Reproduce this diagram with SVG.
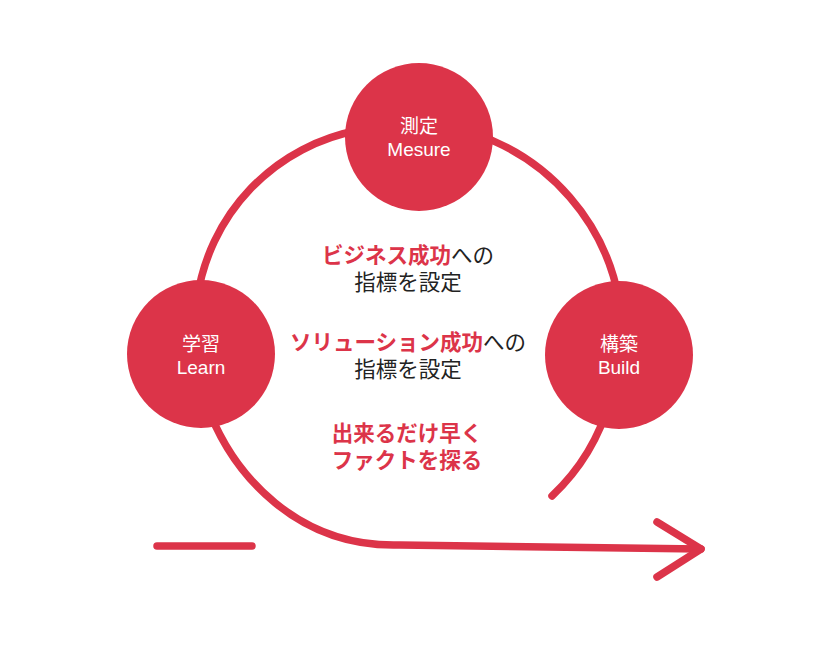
<svg xmlns="http://www.w3.org/2000/svg" width="838" height="658" viewBox="0 0 838 658">
<style>
.ln{fill:none;stroke:#dc3449;stroke-width:7.5;stroke-linecap:round;stroke-linejoin:round}
.nd{fill:#dc3449}
.nt{fill:#ffffff;font-family:"Liberation Sans","Noto Sans CJK JP",sans-serif;font-size:19px;text-anchor:middle}
.ct{font-family:"Liberation Sans","Noto Sans CJK JP",sans-serif;font-size:21.5px;text-anchor:middle;fill:#222222}
.rd{fill:#dc3449;font-weight:700}
</style>
<rect width="838" height="658" fill="#ffffff"/>
<g id="connectors">
<path class="ln" d="M197 300 A200 200 0 0 1 360 130"/>
<path class="ln" d="M475 134 A214.7 214.7 0 0 1 619 300"/>
<path class="ln" d="M610 400 A210 210 0 0 1 552 496"/>
<path class="ln" d="M205 400 C232 478 300 548 400 545 L701 549"/>
<path class="ln" d="M657 522 L701 549 L657 577"/>
<path class="ln" d="M157 546 L252 546"/>
</g>
<g id="node-measure">
<circle class="nd" cx="419" cy="137" r="74"/>
<text class="nt"><tspan x="419" y="133">測定</tspan><tspan x="419" dy="22.5">Mesure</tspan></text>
</g>
<g id="node-learn">
<circle class="nd" cx="201" cy="354" r="74"/>
<text class="nt"><tspan x="201" y="351">学習</tspan><tspan x="201" dy="22.5">Learn</tspan></text>
</g>
<g id="node-build">
<circle class="nd" cx="619" cy="355" r="74"/>
<text class="nt"><tspan x="619" y="351">構築</tspan><tspan x="619" dy="22.5">Build</tspan></text>
</g>
<g id="center-text">
<text class="ct"><tspan x="408" y="263"><tspan class="rd">ビジネス成功</tspan>への</tspan><tspan x="408" dy="27">指標を設定</tspan></text>
<text class="ct"><tspan x="408" y="350"><tspan class="rd">ソリューション成功</tspan>への</tspan><tspan x="408" dy="27">指標を設定</tspan></text>
<text class="ct rd"><tspan x="407" y="441">出来るだけ早く</tspan><tspan x="407" dy="27">ファクトを探る</tspan></text>
</g>
</svg>
